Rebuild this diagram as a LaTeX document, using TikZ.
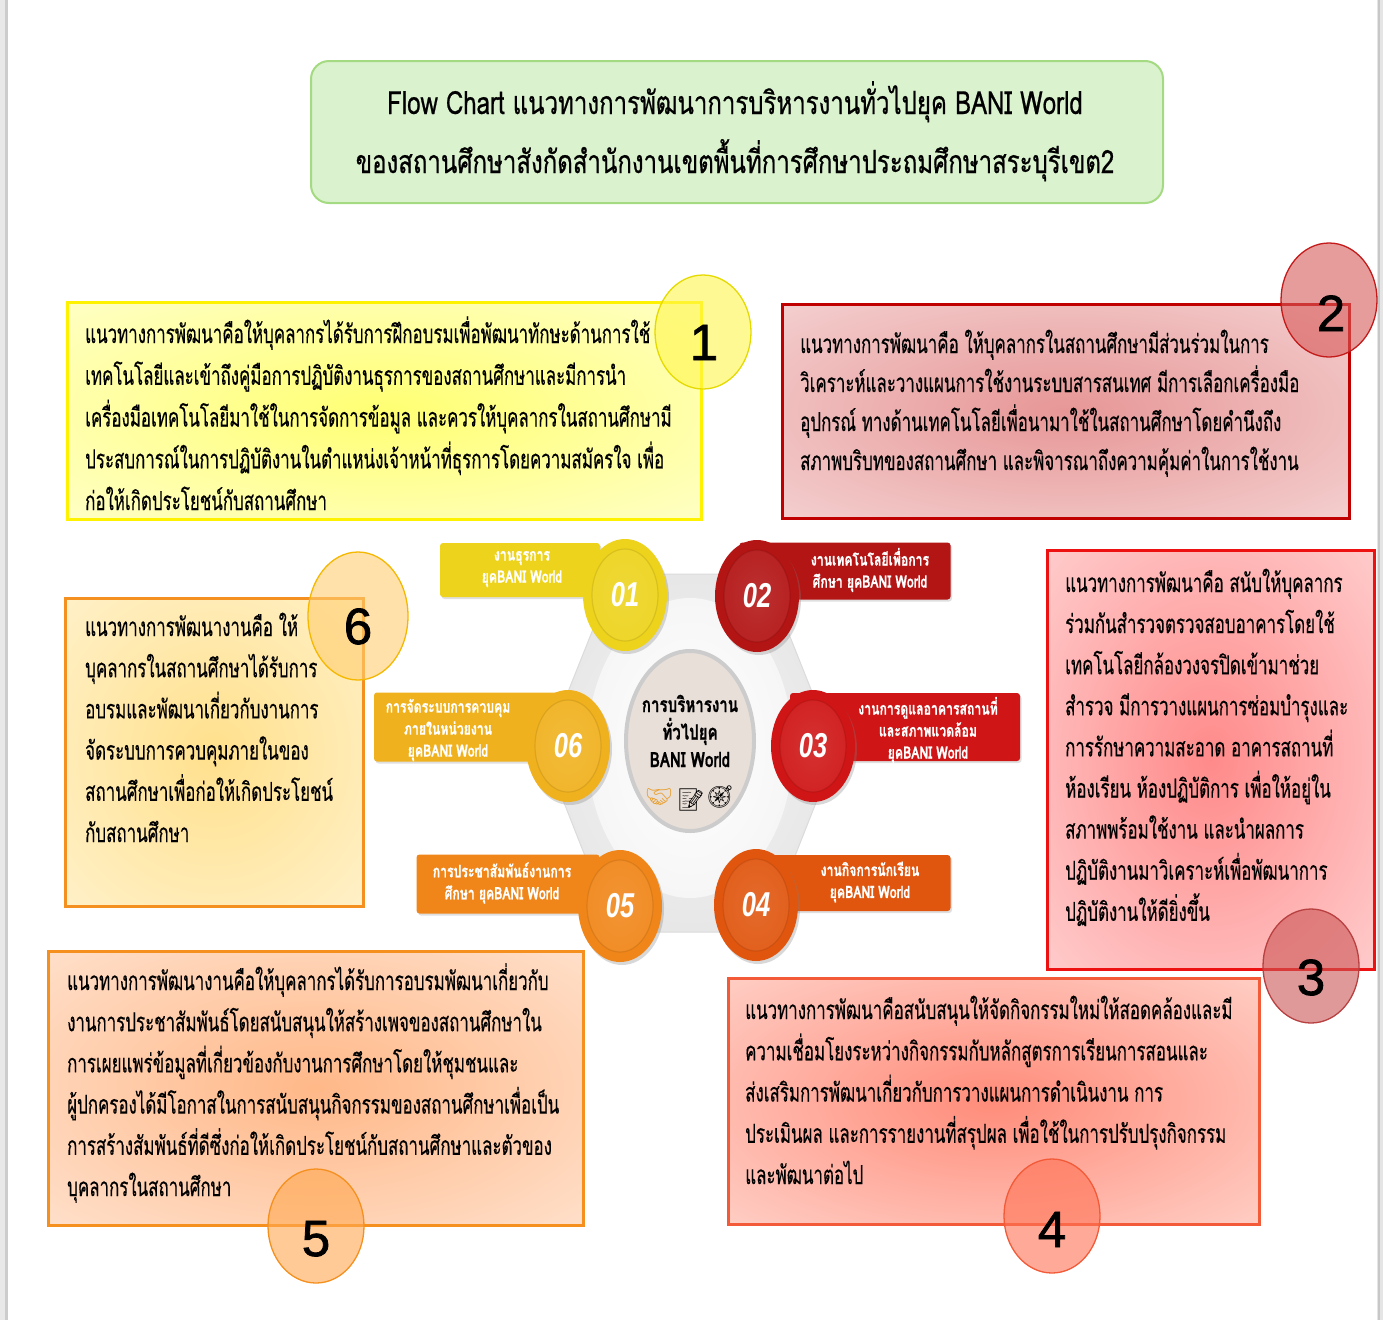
\documentclass[tikz,border=0pt]{standalone}
\usepackage{fontspec}
\usetikzlibrary{shapes.geometric,shadows}
\setmainfont{Liberation Sans}
\newfontfamily\thai[Script=Thai,FakeStretch=0.65,FakeBold=0.3]{Loma}
\newfontfamily\thaiT[Script=Thai,FakeStretch=0.75,FakeBold=0.6]{Loma}
\newfontfamily\thaiB[Script=Thai,FakeStretch=0.72,FakeBold=0.8]{Loma}
\newfontfamily\numfnt{Liberation Sans}
\newfontfamily\bignumfnt[FakeBold=1.5]{Liberation Sans}
\newfontfamily\emo{Noto Emoji}
\newcommand\mylines[2]{\vtop{\baselineskip=#1\relax\lineskiplimit=-1000pt\lineskip=0pt\halign{##\hfil\cr#2\crcr}}}
\newcommand\myclines[2]{\vtop{\baselineskip=#1\relax\lineskiplimit=-1000pt\lineskip=0pt\halign{\hfil##\hfil\cr#2\crcr}}}
\definecolor{titlefill}{HTML}{DBF2CF}
\definecolor{titledraw}{HTML}{A3DA82}
\definecolor{bOne}{HTML}{FFF200}
\definecolor{bTwo}{HTML}{C00000}
\definecolor{bThree}{HTML}{EE1111}
\definecolor{bFour}{HTML}{F25A38}
\definecolor{bFive}{HTML}{F5901E}
\definecolor{bSix}{HTML}{F39020}
\definecolor{kOne}{HTML}{EDD31C}
\definecolor{kTwo}{HTML}{B31414}
\definecolor{kThree}{HTML}{CF1515}
\definecolor{kFour}{HTML}{E0560F}
\definecolor{kFive}{HTML}{F08619}
\definecolor{kSix}{HTML}{F0B11E}
\definecolor{handc}{HTML}{E8A030}
\definecolor{iTwo}{HTML}{E79696}
\definecolor{oTwo}{HTML}{F9E6E6}
\definecolor{iThree}{HTML}{FF8A8A}
\definecolor{oThree}{HTML}{FFE6E6}
\definecolor{iFour}{HTML}{FF8C7A}
\definecolor{oFour}{HTML}{FFE8E2}
\definecolor{iFive}{HTML}{FFB888}
\definecolor{oFive}{HTML}{FFEFE4}
\definecolor{iSix}{HTML}{FFE08C}
\definecolor{oSix}{HTML}{FFF7E0}
\definecolor{cTwoD}{HTML}{C41A1A}
\definecolor{cTwoF}{HTML}{D85A5A}
\definecolor{cThreeD}{HTML}{B84040}
\definecolor{cThreeF}{HTML}{CC5555}
\definecolor{cFourF}{HTML}{FF7254}
\definecolor{cFiveF}{HTML}{FFA850}
\definecolor{cSixD}{HTML}{F5B800}
\definecolor{cSixF}{HTML}{FFCE70}
\definecolor{coreF}{HTML}{E9DFD9}
\colorlet{cin}{white}
\colorlet{cout}{white}
\pgfdeclareradialshading[cin,cout]{soft}{\pgfpointorigin}{color(0bp)=(cin); color(50bp)=(cout); color(72bp)=(cout)}
\begin{document}
\begin{tikzpicture}[x=1pt,y=-1pt,
  soft/.style 2 args={shading=soft, shade, /utils/exec={\colorlet{cin}{#1}\colorlet{cout}{#2}}},
  bigbox/.style={draw, line width=3pt, anchor=north west, inner sep=0pt, outer sep=0pt},
  body/.style={anchor=base west, inner sep=0pt, font=\thai\fontsize{26}{30}\selectfont},
  tag/.style={ellipse, draw, line width=1.3pt, minimum width=96pt, minimum height=114pt, inner sep=0pt, fill opacity=0.6},
  bignum/.style={anchor=base, inner sep=0pt, font=\bignumfnt\fontsize{51}{51}\selectfont},
  banner/.style={rounded corners=3pt, inner sep=0pt, drop shadow={opacity=0.25,shadow xshift=1.5pt,shadow yshift=-2pt}},
  bantext/.style={inner sep=0pt, text=white, font=\thaiB\bfseries\fontsize{17}{20}\selectfont},
  button/.style={ellipse, minimum width=84pt, minimum height=112pt, inner sep=0pt, drop shadow={opacity=0.3,shadow xshift=2pt,shadow yshift=-3pt}},
  inbutton/.style={ellipse, minimum width=66pt, minimum height=92pt, inner sep=0pt, text=white, font=\numfnt\bfseries\itshape\fontsize{30}{30}\selectfont},
  icon/.style={inner sep=0pt, font=\emo\fontsize{22}{22}\selectfont},
]
\useasboundingbox (0,0) rectangle (1383,1320);
\fill[white] (0,0) rectangle (1383,1320);
% page edges
\fill[black!9] (0,0) rectangle (5,1320);
\fill[black!20] (5,0) rectangle (7.5,1320);
\fill[black!10] (1377,0) rectangle (1383,1320);
\fill[black!22] (1378,0) rectangle (1379.5,1320);

% title
\node[draw=titledraw, fill=titlefill, line width=2pt, rounded corners=18pt, anchor=north west, minimum width=852pt, minimum height=142pt, inner sep=0pt] (title) at (310,60) {};
\node[anchor=base, inner sep=0pt, font=\thaiT\fontsize{32}{36}\selectfont] (titletext) at (735,114)
  {\myclines{59pt}{Flow Chart แนวทางการพัฒนาการบริหารงานทั่วไปยุค BANI World\cr ของสถานศึกษาสังกัดสำนักงานเขตพื้นที่การศึกษาประถมศึกษาสระบุรีเขต2}};

% box 1
\node[bigbox, draw=bOne, soft={yellow!55!white}{yellow!10!white}, minimum width=634pt, minimum height=217pt] (box1) at (67,302) {};
\node[body] (t1) at (85,343) {\mylines{41.75pt}{แนวทางการพัฒนาคือให้บุคลากรได้รับการฝึกอบรมเพื่อพัฒนาทักษะด้านการใช้\cr
เทคโนโลยีและเข้าถึงคู่มือการปฏิบัติงานธุรการของสถานศึกษาและมีการนำ\cr
เครื่องมือเทคโนโลยีมาใช้ในการจัดการข้อมูล และควรให้บุคลากรในสถานศึกษามี\cr
ประสบการณ์ในการปฏิบัติงานในตำแหน่งเจ้าหน้าที่ธุรการโดยความสมัครใจ เพื่อ\cr
ก่อให้เกิดประโยชน์กับสถานศึกษา}};
\node[tag, draw=bOne!90!black, fill=yellow!70!white] (c1) at (703,332) {};
\node[bignum] (n1) at (704,360) {1};

% box 2
\node[bigbox, draw=bTwo, soft={iTwo}{oTwo}, minimum width=567pt, minimum height=214pt] (box2) at (782,304) {};
\node[body] (t2) at (800,353) {\mylines{39pt}{แนวทางการพัฒนาคือ ให้บุคลากรในสถานศึกษามีส่วนร่วมในการ\cr
วิเคราะห์และวางแผนการใช้งานระบบสารสนเทศ มีการเลือกเครื่องมือ\cr
อุปกรณ์ ทางด้านเทคโนโลยีเพื่อนามาใช้ในสถานศึกษาโดยคำนึงถึง\cr
สภาพบริบทของสถานศึกษา และพิจารณาถึงความคุ้มค่าในการใช้งาน}};
\node[tag, draw=cTwoD, fill=cTwoF] (c2) at (1329,300) {};
\node[bignum] (n2) at (1331,331) {2};

% box 3
\node[bigbox, draw=bThree, soft={iThree}{oThree}, minimum width=327pt, minimum height=419pt] (box3) at (1047,550) {};
\node[body] (t3) at (1065,592) {\mylines{41.1pt}{แนวทางการพัฒนาคือ สนับให้บุคลากร\cr
ร่วมกันสำรวจตรวจสอบอาคารโดยใช้\cr
เทคโนโลยีกล้องวงจรปิดเข้ามาช่วย\cr
สำรวจ มีการวางแผนการซ่อมบำรุงและ\cr
การรักษาความสะอาด อาคารสถานที่\cr
ห้องเรียน ห้องปฏิบัติการ เพื่อให้อยู่ใน\cr
สภาพพร้อมใช้งาน และนำผลการ\cr
ปฏิบัติงานมาวิเคราะห์เพื่อพัฒนาการ\cr
ปฏิบัติงานให้ดียิ่งขึ้น}};
\node[tag, draw=cThreeD, fill=cThreeF] (c3) at (1311,966) {};
\node[bignum] (n3) at (1311,995) {3};

% box 4
\node[bigbox, draw=bFour, soft={iFour}{oFour}, minimum width=531pt, minimum height=246pt] (box4) at (728,978) {};
\node[body] (t4) at (745,1019) {\mylines{41.25pt}{แนวทางการพัฒนาคือสนับสนุนให้จัดกิจกรรมใหม่ให้สอดคล้องและมี\cr
ความเชื่อมโยงระหว่างกิจกรรมกับหลักสูตรการเรียนการสอนและ\cr
ส่งเสริมการพัฒนาเกี่ยวกับการวางแผนการดำเนินงาน การ\cr
ประเมินผล และการรายงานที่สรุปผล เพื่อใช้ในการปรับปรุงกิจกรรม\cr
และพัฒนาต่อไป}};
\node[tag, draw=bFour, fill=cFourF] (c4) at (1052,1216) {};
\node[bignum] (n4) at (1052,1247) {4};

% box 5
\node[bigbox, draw=bFive, soft={iFive}{oFive}, minimum width=535pt, minimum height=274pt] (box5) at (48,951) {};
\node[body] (t5) at (67,990) {\mylines{41.2pt}{แนวทางการพัฒนางานคือให้บุคลากรได้รับการอบรมพัฒนาเกี่ยวกับ\cr
งานการประชาสัมพันธ์โดยสนับสนุนให้สร้างเพจของสถานศึกษาใน\cr
การเผยแพร่ข้อมูลที่เกี่ยวข้องกับงานการศึกษาโดยให้ชุมชนและ\cr
ผู้ปกครองได้มีโอกาสในการสนับสนุนกิจกรรมของสถานศึกษาเพื่อเป็น\cr
การสร้างสัมพันธ์ที่ดีซึ่งก่อให้เกิดประโยชน์กับสถานศึกษาและตัวของ\cr
บุคลากรในสถานศึกษา}};
\node[tag, draw=bFive, fill=cFiveF] (c5) at (316,1226) {};
\node[bignum] (n5) at (316,1256) {5};

% box 6
\node[bigbox, draw=bSix, soft={iSix}{oSix}, minimum width=298pt, minimum height=308pt] (box6) at (65,598) {};
\node[body] (t6) at (85,636) {\mylines{41.2pt}{แนวทางการพัฒนางานคือ ให้\cr
บุคลากรในสถานศึกษาได้รับการ\cr
อบรมและพัฒนาเกี่ยวกับงานการ\cr
จัดระบบการควบคุมภายในของ\cr
สถานศึกษาเพื่อก่อให้เกิดประโยชน์\cr
กับสถานศึกษา}};
\node[tag, draw=cSixD, fill=cSixF, minimum width=100pt, minimum height=128pt] (c6) at (358,616) {};
\node[bignum] (n6) at (358,644) {6};

% central hexagon
\draw[draw=black!14, line width=1pt, soft={black!4}{black!15}, rounded corners=28pt]
  (615,574) -- (765,574) -- (836,752) -- (765,932) -- (615,932) -- (544,752) -- cycle;
\node[ellipse, minimum width=206pt, minimum height=300pt, inner sep=0pt, soft={white}{black!7}] (ring) at (690,748) {};
\node[ellipse, draw=black!20, line width=4pt, fill=coreF, minimum width=128pt, minimum height=180pt, inner sep=0pt] (core) at (690,741) {};
\node[anchor=base, inner sep=0pt, font=\thaiB\bfseries\fontsize{21}{24}\selectfont] (coretext) at (690,712)
  {\myclines{27.5pt}{การบริหารงาน\cr ทั่วไปยุค\cr BANI World}};
\node[icon, text=handc] (ic1) at (659,797) {🤝};
\node[icon] (ic2) at (691,800) {📝};
\node[icon] (ic3) at (720,797) {🧭};

% banners
\node[banner, fill=kOne, minimum width=160pt, minimum height=54pt] (ban1) at (520,570) {};
\node[bantext] (bt1) at (522,569) {\myclines{22pt}{งานธุรการ\cr ยุคBANI World}};
\node[banner, fill=kTwo, minimum width=211pt, minimum height=57pt] (ban2) at (845,571) {};
\node[bantext] (bt2) at (870,570) {\myclines{22pt}{งานเทคโนโลยีเพื่อการ\cr ศึกษา ยุคBANI World}};
\node[banner, fill=kThree, minimum width=230pt, minimum height=68pt] (ban3) at (905,727) {};
\node[bantext] (bt3) at (928,730) {\myclines{22pt}{งานการดูแลอาคารสถานที่\cr และสภาพแวดล้อม\cr ยุคBANI World}};
\node[banner, fill=kFour, minimum width=211pt, minimum height=56pt] (ban4) at (845,883) {};
\node[bantext] (bt4) at (870,882) {\myclines{22pt}{งานกิจการนักเรียน\cr ยุคBANI World}};
\node[banner, fill=kFive, minimum width=183pt, minimum height=59pt] (ban5) at (508,884) {};
\node[bantext] (bt5) at (502,883) {\myclines{22pt}{การประชาสัมพันธ์งานการ\cr ศึกษา ยุคBANI World}};
\node[banner, fill=kSix, minimum width=186pt, minimum height=69pt] (ban6) at (467,727) {};
\node[bantext] (bt6) at (448,730) {\myclines{22pt}{การจัดระบบการควบคุม\cr ภายในหน่วยงาน\cr ยุคBANI World}};

% buttons
\foreach \nm/\cx/\cy/\col/\lab in {k1/625/595/kOne/01, k2/757/596/kTwo/02, k3/813/746/kThree/03, k4/756/905/kFour/04, k5/620/906/kFive/05, k6/568/746/kSix/06}{
  \node[button, fill=\col] (\nm) at (\cx,\cy) {};
  \node[inbutton, draw=\col!75!black, draw opacity=0.35, line width=1.2pt, soft={\col!88!white}{\col}] (\nm in) at (\cx,\cy) {\scalebox{0.85}[1.15]{\lab}};
}
\end{tikzpicture}
\end{document}
